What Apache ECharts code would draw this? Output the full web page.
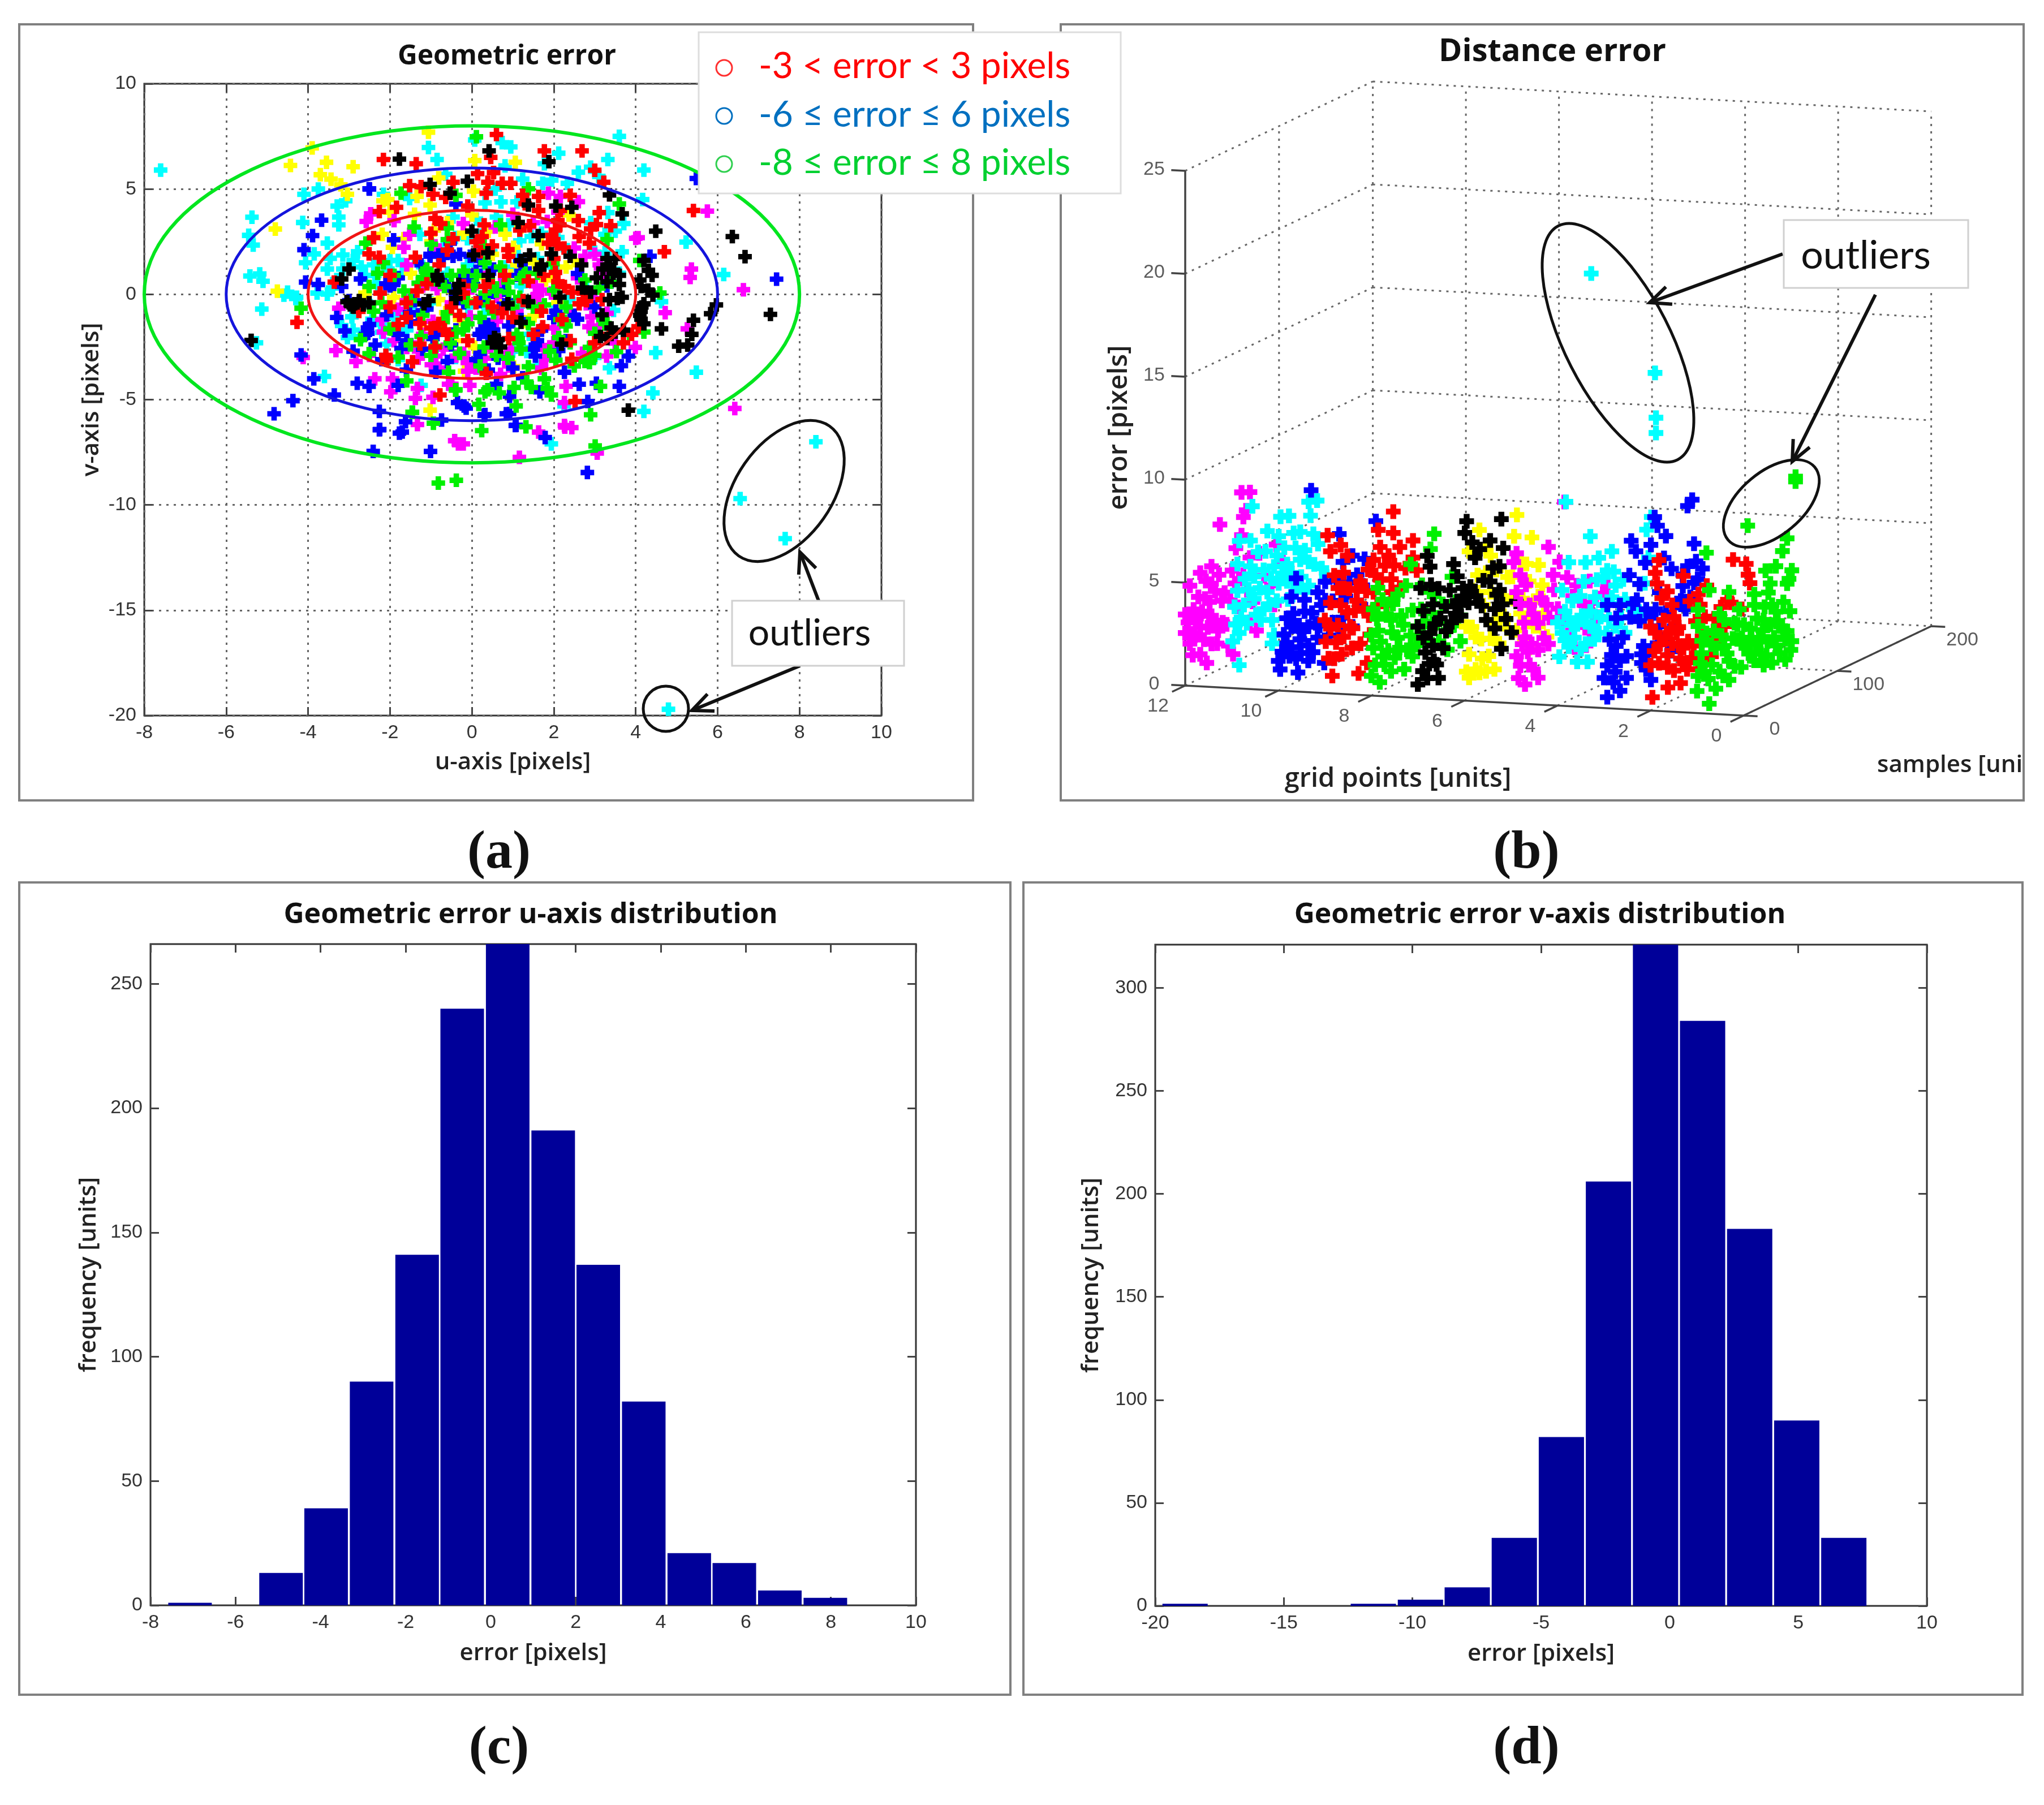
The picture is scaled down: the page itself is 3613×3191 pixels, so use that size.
<!DOCTYPE html>
<html><head><meta charset="utf-8">
<style>html,body{margin:0;padding:0;background:#fff}#c{width:3613px;height:3191px}</style>
<script src="https://cdn.jsdelivr.net/npm/echarts@6/dist/echarts.min.js"></script>
</head><body><div id="c"></div>
<script>
// ---------- panel (a): [u,v, u,v, ...]
const aCyan=[4.8,-19.7,8.4,-7,6.55,-9.7,7.65,-11.6,-7.6,5.9,.07,7.33,.74,7.2,.95,7,-1.06,6.97,-.85,6.4,2.12,6.7,1.77,6.2,3.6,7.5,3.32,6.4,2.9,6.04,2.6,5.8,3.1,5.6,4.2,5.9,.81,6.1,1.24,5.47,-.64,5.7,-4.1,4.75,-3.75,5,-2.16,4.75,-1.52,4.55,.57,5,1.73,5.27,2.33,5.27,1.95,5.42,4.17,4.5,-3.29,4.19,-3.08,4.44,-3.25,3.67,-3.25,3.3,-4.13,3.41,-3.53,2.43,-3.85,1.92,-4.06,1.5,-3.46,1.71,-3.15,1.87,-2.79,2.02,-3.53,1.2,-3.78,.06,-3.53,.01,-4.28,-.14,-4.59,-.04,-3.15,1.2,-2.37,.89,-2.05,1.2,-1.8,1.61,-2.3,.47,.32,4.34,.71,4.39,1.1,4.39,3.32,3.88,3.71,3.36,3.25,2.85,3.67,2.02,3.25,1.97,-.46,3.67,.11,3.57,.6,3.67,-1.27,2.85,-.11,2.64,1.17,2.54,1.45,2.74,2.33,2.12,.46,2.02,1.13,1.81,-.11,1.4,1.13,1.2,-.04,.78,2.37,-.25,3.46,-.76,-1.52,-.61,1.13,-.56,-2.58,-.35,-2.93,-1.07,-2.44,-1.18,-2.23,-1.43,-3.18,-1.48,-3.04,-2.05,-1.59,-1.69,-2.08,-2.36,1.34,-2.72,.21,-3.49,-1.24,-4.32,-3.6,-3.9,4.49,-2.77,5.48,-3.7,4.42,-4.68,4.2,-5.56,1.94,-7.1,4.63,-.35,6.15,.94,5.23,2.48,3.36,-3.49,2.25,-5.3,-5.37,3.66,-5.45,2.8,-5.34,2.34,-5.42,.87,-5.18,.97,-5.1,.62,-5.13,-.7,-5.26,-2.3,-4.5,.1,-4.3,-.2,-2.6,.9,-2.7,1.3,-3.4,.3,-3.3,.7,-2.9,1.6,-2.4,1.4,-2,1.6,-1.7,1,-1.3,1.5,-1,.6,-.6,1,-.2,.5,.4,1.2,.8,1.3,1.2,.4,1.6,1.7,2,1.3,2.1,2.7,1.7,2.9,.9,3.3,.3,3,-.4,2.7,-.7,2.2,-2.2,-1.8,-2.7,-2,-2.9,-1.7,-1.9,-1.1,-1.6,-.9,-1,-.4,-.1,-.6,.3,-.9,1.4,-1.9,2.1,-.6,2.8,.3,3,2,2.9,3.4,3.5,3,3.6,1,1.6,-3.4,1,-2.7,-.4,-3,-1.8,-3.1,3,-3];
const aYellow=[-4.43,6.12,-3.55,6.27,-2.9,6.06,-3.7,5.68,-3.44,5.47,-3.04,4.75,-2.17,4.44,-2.05,4.5,-1.34,4.65,-.81,5.53,.04,4.9,.07,6.35,1.06,6.27,-1.06,7.7,-1.02,4.24,-2.19,2.85,-1.94,2.23,-1.66,2.64,-.92,3.05,0,3.77,.81,2.85,1.02,2.23,1.52,1.5,2.3,1.3,1.8,.68,.95,.89,-.46,.16,-.81,-.25,-1.91,-.14,-2.61,.06,-.64,-.87,1.52,-1.02,-.39,-2.2,.07,-2.5,1.02,-3.44,-.18,-3.65,-1.02,-5.5,2.37,3.77,-3.9,6.95,-4.8,3.1,-4.75,.15,-3.2,5.2,-.6,3.4,-.2,2.9,.4,3,1.2,3.2,1.7,2.4,.5,1.9,-1,2.5,-1.4,3.8,-2,3.9,-1.5,1,-.1,-.3,.3,.8,1.1,1.4,2,.9,2.5,1.6,.7,-.3,-1.2,-1.3,-.3,-1.2,.5,-1.6,1.3,-1.3,2.1,-.4];
const aMagenta=[5.75,3.95,5.36,1.2,5.33,.8,6.63,.22,6.42,-5.42,4,2.66,4.72,-.87,-4.12,-3,-.33,-7.1,1.16,-7.74,3.06,-7.54,2.27,-6.3,1.63,-6.54,4.06,2.69,2.76,1.81,3.14,1.25,3.29,.94,5.26,-1.64,2.86,-1.54,2.93,-1.07,3.99,-2.52,3.29,-2.93,3.5,-2.31,1.77,-2.62,1.8,-3.08,.95,-2.62,-.11,-3.24,.32,-3.03,-.88,-2.93,-.99,-3.34,-1.31,-3.03,-1.59,-2.52,-2.83,-3.19,-3.32,-2.67,-2.37,-4.01,-1.98,-4.63,-1.33,-4.47,-1.38,-4.94,-.95,-4.89,-1.94,-4.01,-.49,-4.27,-.05,-4.32,2.3,-4.37,2.26,-5.14,-1.33,-6.18,-.42,-6.95,-.21,-7.1,2.26,-6.23,2.44,-6.33,-2.47,3.82,-1.66,2.23,-1.52,2.85,-.21,3.36,.57,3.2,1.84,3.46,1.87,4.8,2.16,4.65,-2.58,3.46,-1.59,1.4,-3.25,-.66,-1.8,-.71,-.85,.27,.39,.99,1.59,-.04,1.63,-.45,-.95,-1.28,-.04,-1.07,.6,-1.28,2.79,-.45,2.58,.78,-.39,-2.93,.46,-2.52,-2.16,-1.79,1.94,.06,3.11,1.4,-.1,-3.65,-.57,-4.27,1.55,.4,1.7,.2,1.5,-.2,.8,-3,.9,-3.4,-.2,-2.8,.1,-3.5,.3,-2.6,-.7,-2.6,-.8,-3.5,-1.4,-2.5,-1.2,-1.9,-1.9,-2.2,-2.5,-2.9,-2.2,-1.2,-1.6,-.3,-1.2,.4,-.5,-.4,0,.3,.6,-.1,.7,.5,1.1,-.8,2,-1.6,2.4,-.8,3,-.2,3.1,-1.5,3.3,-.9,3.2,.5,3,1.9,2.5,2.2,1.5,3.4,2.1,3.9,2.6,4.4,1,3.8,.2,2.2,-.9,2.3,-1.9,3.5,.7,-3.8,1.7,-3.5,2,-2.3,2.7,-2.8];
const aBlue=[7.44,.72,5.48,5.5,-2.5,5,2.82,-8.46,-2.41,-7.46,-1.01,-7.46,-2.25,-6.42,-1.62,-6.05,-1.7,-6.54,-4.37,-5.05,-4.83,-5.67,1.79,-6.8,1.08,-6.22,.84,-5.67,.3,-5.75,-.19,-5.3,-3.67,3.52,-3.89,2.79,-4.1,2.12,-3.75,.47,-4.06,.58,-2.72,.73,-3.18,.37,-2.51,5.01,-1.91,2.59,-4.17,-2.88,-3.86,-4.01,-3.36,-4.78,-2.8,-4.22,-2.51,-4.37,-1.8,-4.32,-2.26,-5.56,-2.26,-6.43,-1.77,-6.59,-.74,-5.97,-.35,-5.14,-.14,-5.4,.32,-5.71,.92,-5.66,.92,-4.84,1.06,-6.23,-1.02,1.81,-.81,1.87,-.53,2.43,-.46,1.81,-.04,1.81,-1.91,.47,-1.8,.78,-2.08,-.97,-2.54,-1.85,-2.5,-1.43,-3.1,-1.74,-2.36,-2.41,-1.59,-2.2,-1.73,-2.57,-.88,-1.9,-1.31,-.97,-.67,.58,-.39,-.14,.18,-.35,.04,.47,.39,-1.43,.25,-1.69,.53,-1.69,.39,-2,.49,-2.31,1.55,-2.41,1.55,-2.93,2.08,-.97,2.58,-1.18,2.12,-2.67,2.26,-3.7,2.58,.99,3.82,-2.93,3.65,-3.39,2.62,-4.27,3.04,-4.22,3.6,-4.37,2.83,-5.09,4.35,1.81,-.6,-3.19,-.88,-3.7,.6,-4.27,1.24,-3.96,1.66,-4.63,.53,1.2,-.11,.68,1.17,1.61,-1.24,1.4,.64,-3.03,.67,-.66,-1.52,-.87,-.39,-1.69,-.39,4.29,.32,-1.5,.18,-1.9,.46,-1.8,.6,-2.2,-.88,-1.7,-.95,-2.1,-1.02,1.9,-.7,1.75,-.3,1.9,.2,1.6,-2,.4,-2.1,.5,-2.55,-1.6,-2.6,-1.9,2.05,-.8,2,-1.1,2.5,-1,1.5,-2.6,1.6,-2.2,-.2,.9,.1,1.1,-.5,.2,-.2,-.4,.4,-.1,.8,.2,.9,-.3,1.1,.9,1.3,1.2,-1.4,-.3,-1.1,-.7,-1.5,-1.3,-1.8,-1.9,-1.2,-2.6,-.5,-2.4,.1,-3.1,.2,-2.8,.9,-1.5,1.2,-1.2,1.7,-1.7,2.3,-2.2,3,-.6,3.3,.4,-3,-.3,-3.3,-1.1,-2.2,-3.1,-1.6,-3.6,-2.9,-2.7,.4,-3.6,1,-3.5];
const aGreen=[-.82,-8.96,-.38,-8.83,3.01,-7.2,2.9,-5.72,.24,-6.47,-.94,-6.12,-1.46,-5.6,.17,-5.22,-.4,-4.55,.32,-4.63,1.32,-6.29,1.08,-5.3,-1.73,4.8,-.39,4.7,1.38,5.01,3.6,4.29,-2.59,2.43,-1.41,3.2,-.6,3.15,-.99,2.38,4.1,1.61,4.59,.06,3.39,.58,2.76,.68,1.98,1.45,1.27,.89,.88,.58,.6,.16,.32,.06,-1.13,1.09,-1.06,.89,-1.31,.53,-1.66,.16,-2.16,1.5,-2.51,.37,-4.17,-.66,-2.72,-2.15,-2,-1.64,-2.51,-2.82,-1.8,-2.98,-1.24,-2,-.88,-2.46,-.53,-2.31,-.39,-1.79,-.21,-1.69,1.13,-2.1,1.17,-.14,1.77,-.5,2.26,-1.28,2.12,-2.05,2.87,-2.52,2.76,-3.19,2.87,-3.24,3.25,-1.38,3.53,-2.72,3.85,-1.9,4.2,-1.79,3,-1.85,2.05,-3.13,.88,-3.03,1.38,-3.44,1.77,-4.01,-1.59,-4.11,-.57,-3.7,-.39,-4.53,.39,-4.53,.67,-4.68,1.03,-4.42,1.34,-4.16,1.45,-4.42,1.84,-4.47,1.94,-4.78,3.14,-4.37,-1.45,-5.6,.11,7.48,.11,.89,.32,1.5,-.11,-.35,-.67,.37,.53,-.87,1.38,-1.38,-.6,-.87,-1.1,1.2,-1,1,-1.2,.8,1.2,.75,1.3,1,1.15,-2.3,1.2,-2.6,1.1,-1.9,2.15,-1.2,2.3,-1.5,3.2,-1.2,3.35,-1.6,-.9,.7,-.5,.9,-.2,1.1,.05,.4,.5,.5,.9,.1,1,-.6,.4,-.5,.2,-1.1,-.1,-1.4,-.7,-1.3,-1.2,-1,-1.5,-.3,-1.9,.9,-2.3,1,-2.2,-.4,-2.4,-.8,-1.5,-2.4,-1,-2.9,-.3,-2.8,.3,-2.5,.6,-2.9,.2,-3.4,1.9,-2.7,2.4,-2.3,2.5,-3.4,3,-2.9,1.5,-.6,2,.2,2.3,-.6,3.1,.3,1.6,1,.7,1.3,.3,2.3,-.6,2.6,.7,3.3,3.3,2.6];
const aRed=[-2.16,6.4,-1.36,6.2,.6,7.59,1.77,6.81,2.69,6.81,.46,6.5,.14,5.73,.53,5.78,-1.52,5.16,-1.24,5.11,-.46,5.32,.39,5.32,.74,5.27,.95,5.27,.35,4.8,-.95,4.75,-.64,4.6,-1.84,4.13,-2.26,3.93,1.24,4.7,1.63,4.65,2.4,4.7,1.63,3.98,2.16,3.98,3.22,5.32,3,5.89,3.11,3.88,3.04,3.31,3.39,3.26,5.41,3.98,4.7,2.02,-.76,3.36,-2.4,2.69,-2.51,1.92,-2.26,1.76,-1.38,1.76,-.46,2.64,.25,2.74,1.17,3.05,1.41,3.26,2.04,3.05,1.87,2.43,2.08,2.38,2.62,2.74,2.87,2.43,.88,2.12,.21,2.02,2.04,1.04,2.72,.06,3.18,-.25,2.26,.37,-3.36,.58,-2.24,.06,-1.34,.16,-.21,.06,.32,.37,1.38,.63,2.62,-.45,-2.76,-.81,-4.27,-1.33,-1.8,-1.43,-1.27,-1.38,-.81,-1.38,-.67,-1.69,.74,-.87,1.73,-1.54,4.06,-1.54,3.36,-1.9,-1.27,-2.36,-2.08,-3.13,.35,-3.75,2.44,-3.08,-.78,-4.78,2.52,-5.09,-.1,4.19,1.95,2.8,2,2.6,2.15,3.3,2.1,3.5,2.25,2.2,2,1.7,1.75,.9,2.1,.6,2.45,.1,2.8,-.3,-.2,.4,.4,.6,.8,.9,.9,1.8,.5,2.3,.1,2.5,-.6,2.1,-.8,1.4,-1.1,.5,-1.6,-.4,-2,-.6,-.5,-.6,-.3,-1,.1,-.4,.5,-.6,1,-1.1,1.25,-.3,1.7,-.8,-.6,-1.9,-1,-1.6,-.9,-2.5,-.1,-2.2,.9,-2.1,1.5,-1.9,2.2,-1.2,2.4,-2.2,3,-2.3,3.7,-2.3,3.9,-1.9,-1.6,-1.1,-1.45,-3.2,-2.1,-2.9,-2,.9,-1,2.9,-.9,3.6,.3,3.3,1.3,4.3,2.6,3.5,2.9,3.1];
const aBlack=[-5.39,-2.19,-1.77,6.42,.42,6.81,1.88,6.3,-1.02,5.22,-.11,5.37,-.53,4.8,1.38,4.24,2.05,4.19,2.44,4.13,3.36,4.72,3.67,3.82,4.49,3,6.36,2.74,6.67,1.79,7.29,-.95,1.13,3.41,0,3,1.62,2.79,.04,1.87,.39,1.97,1.41,1.87,1.94,1.92,2.4,1.81,2.68,1.4,1.66,1.2,3.36,1.4,3.46,1.14,4.2,1.61,4.31,1.14,3.04,.78,4.1,.68,4.13,.37,3.6,.47,3.36,-.25,3.67,-.14,4.42,-.04,2.15,-.14,1.38,-.35,.88,-.45,-1.17,-.45,-.83,.68,-.32,.47,-.39,-.2,-2.86,-.45,-2.97,-.5,-2.51,-.4,-3.18,.73,-3,1.2,3.18,-.97,4.13,-.81,4.13,-1.18,4.2,-.45,5.97,-.5,5.83,-.92,5.41,-1.23,4.63,-1.64,5.37,-1.9,5.05,-2.46,5.27,-2.41,3.5,-1.79,1.2,-1.33,.64,-2.15,2.19,-2.36,3.82,-5.5,3.14,-2,3.3,1.7,3.5,1.7,3.45,1,3.6,.9,3.2,1.2,3.3,.6,3.55,-.2,4.1,-1,4.2,-1.4,4.15,-.6,-2.75,-.3,-2.65,-.5,-3.05,-.35,-2.9,-.6,-.85,.9,-.4,.1,-1.05,-.3,.5,-2.3,.7,-2.5,.55,-2.05,3.4,-1.6,3.7,-1.7,3.3,-2.1,4.3,.2,4.4,.9,2.7,.3,2.9,.1,.4,.9,1.2,1.6,1.7,1.4];
const aRadii=[4,6,8];
// ---------- panel (b): per grid point, [sample, error, ...]
const bGrid1=[13,.17,0,1.07,34,.87,20,.75,10,7.57,13,5.69,34,5.14,54,7.93,105,8.97,105,9.2,96,6.4,91,5.89,84,5.31,73,5.33,101,4.74,98,4.39,78,4.6,61,4.45,1,5,1,4.2,10,3.67,24,4.3,20,2.73,3.5,2.35,8,1.83,1,1.78,29,2.63,34,1.8,43,2.65,52,2.04,61,1.22,47,1.21,71,.79,80,.71,94,.56,66,2.16,75,1.85,84,1.46,94,1.55,101,1.3,89,2.28,71,2.98,80,3.52,61,3.93,45,4.06,29,3.89,43,3.37,57,2.86,24,1.49,15,3,18,3.6,26,3.2,32,2.2,38,2.8,40,1.4,48,2.6,50,3.2,55,1.7,58,2.4,63,2,68,1.4,70,2.5,74,1.2,78,2.6,82,1.9,86,2.6,88,1,92,2,96,1.9,99,2.8,100,.9,64,3.2,72,3.6,84,3.1,76,4.2,12,1.4,16,2,28,1.2,40,3.5,92,3.4,96,4.2,5,3.4,5,2.8];
const bGrid2=[2,.6,18.5,.72,32,.64,0,2.2,9,2.1,18.5,1.7,39,1.16,51,.9,32,1.83,46,2.16,5,3.67,0,4.08,14,4.09,23,4.63,25,4,28,3.16,35,2.29,23,2.75,51,4.55,53,3.99,9,7.11,5,6.58,7,6.02,35,5.78,60,4.77,88,5.42,102,4.91,106,3.89,104,4.34,86,3.37,97,2.83,79,2.39,74,1.87,65,1.23,58,1.17,10,3,16,3.2,18,2.3,22,3.5,30,3.4,30,2.5,36,1.5,40,2.5,44,1.6,48,3.3,55,2.4,62,2.2,68,3,72,2.5,75,3.4,82,3.6,12,5.2,18,5.4,42,4.4,4,2.8,58,3.3,25,1.4];
const bGrid3=[3.5,.45,17,.47,10,1.03,0,1.46,24,.94,3.5,2,17,1.93,13,2.74,50,.28,45,.9,40,1.32,52,1.8,27,5.87,3.5,4.93,17,4.63,31,4.4,45,3.82,13,4.09,29,7.5,34,6.87,54,8.1,57,7.62,50,6.84,66,6.92,59,4.35,89,7.88,94,8.08,96,5.9,98,5,89,4.96,105,4.5,84,4.66,96,4,82,3.44,87,2.92,68,1.77,75,2.34,50,3.3,59,2.69,40,1.74,6,3.2,8,2.4,12,1.5,20,3,24,2,28,3.8,35,4.5,38,3.4,38,5.2,42,2.1,46,1.6,55,3.6,62,2,66,3.2,72,1.2,78,3.4,84,4.1,92,3.4,100,4.1,72,5.2,64,5.9,44,6.1];
const bGrid4=[36,20.2,104,13.9,105,11.7,105,10.96,9,9.7,2,2.33,21,1.67,32,1.43,5,3.42,30,2.35,39,2.37,0,4.04,12,3.99,16,4.74,5,5.5,12,6.7,28,5.42,35,7.46,44,6.22,58,6.23,53,5.41,49,5.18,62,4.48,49,3.82,35,3.81,62,2.5,72,1.97,35,3.08,21,3.49,44,2.57,76,3.24,90,2.31,93,3.92,97,5.08,100,6.99,95,6.48,8,3,12,2.6,18,2.9,25,2.2,26,3.8,30,3.4,38,3,40,4.4,46,3.3,52,2.4,55,3,58,4,66,3.5,68,2.8,72,3.6,70,4.6,82,3,86,2.6,88,4,24,4.8,15,3.6,8,4.4,42,5.2,30,6.3,60,5.2];
const bGrid5=[15,.58,24,1.11,6,2.14,29,1.95,15,2.87,6,5.26,3,6.78,6,7.14,40,6.71,20,4.33,29,3.26,52,5.73,45,5.25,38,3.95,68,1.22,80,1.06,84,4.1,103,3.48,84,1.6,61,1.98,57,8.53,66,3.76,78,3.08,98,3.18,41,3.25,20,1.42,8,1.04,29,.6,10,1.6,12,2.6,18,2.1,22,2.4,10,4.6,14,3.6,24,3.8,32,4.4,35,2.4,40,2,46,4.5,50,3.5,56,2.9,60,4.8,70,4.2,74,2.3,86,3,92,2.2,10,6,16,5.4];
const bGrid6=[2,1.36,23,.92,12,1.25,32,.82,5,2.14,19,1.63,37,1.97,2,3.55,12,2.82,23,6.96,16,7.94,5,7.14,28,6.43,23,5.71,14,5.79,14,4.96,28,4.66,42,4.15,56,7.8,53,6.83,72,6.36,79,4.87,51,4.9,69,4.29,83,3.8,79,3.35,69,2.73,88,1.2,79,1.9,60,2.93,37,3.22,69,1.06,5,1,8,3.4,16,1,18,2.6,26,1.6,28,2.4,33,3,42,3.2,46,2.5,46,5,52,3.8,56,2.2,62,3.6,64,1.5,74,3.2,74,2,85,2.4,20,4.2,8,5.2,34,5.6,60,5.5,66,5.2];
const bGrid7=[0,.66,10,.75,22,.5,17,1.44,8,2.04,27,1.84,13,2.87,24,3.36,40,3.23,36,2.9,50,3.84,54,3.45,45,3.54,3,5.28,22,4.85,10,6.69,13,6.1,52,7.46,50,6.93,89,6.76,38,5.68,61,5.49,77,5.98,91,5.31,66,5.8,87,4.51,77,3.99,87,3.36,105,2.4,82,2.54,82,1.6,100,1.01,89,.46,73,2.21,0,3.47,5,1.2,12,1.4,16,2.2,20,1.2,6,2.8,18,3.2,30,2.6,30,3.8,34,4.5,42,3.8,46,3,48,4.3,56,4.2,62,3.6,68,3,70,4.2,84,3.2,90,2.6,94,1.8,80,4.6,16,4.2,6,4.1,14,5.2,42,5,58,6.3];
const bGrid8=[9,.45,0,.96,21,.72,35,.52,12,1.64,2,2.27,30,1.67,44,.95,2,4.15,7,5.08,0,2.94,21,3.22,23,3.95,37,4.54,42,5.47,67,6.4,63,5.75,63,3.67,67,3.38,53,3.05,58,2.31,72,1.07,86,3.9,95,1.83,95,.58,81,.47,49,2.3,32,3.19,7,3,53,1.6,4,1.4,6,3.6,10,2.4,14,1.2,16,3.6,18,1.8,22,2.6,25,1.3,28,2.2,34,2.7,38,1.4,42,2,44,3.2,48,1.4,55,2.2,60,1.4,65,2.6,70,2,76,2.8,82,1.4,88,1.5,90,2.6,12,4.4,28,4.3,54,4.2];
const bGrid9=[8,.66,36,.17,45,.49,10,1.45,1,2.48,29,1.56,38,1.57,0,3.54,27,2.64,6,4.25,17,3.9,3,7.6,6,6.75,17,6.82,24,6.15,20,5.41,20,4.67,34,4.27,34,3.75,47,2.74,52,5.34,54,4.56,57,6.69,73,7.23,73,6.19,59,5.81,80,5.36,94,5.37,94,4.54,71,3.99,80,3.39,98,3.83,71,3.36,66,2.85,52,3.77,4,1.6,6,3,12,2.2,14,3,18,1.5,20,2.3,24,3.4,30,2.5,32,3.3,38,4.6,42,3.2,44,4,46,5,48,1.8,56,3,60,4.2,64,4.8,68,5.2,74,4.6,86,4.2,10,5.5,14,4.8,26,4.5];
const bGrid10=[2,.98,21,.42,0,1.44,49,.28,19,1.14,32,.75,9,2.07,23,1.99,37,1.06,9,3.32,19,2.71,28,3.23,46,3.16,19,5.04,35,8.97,14,4.26,42,3.86,58,2.06,65,1.6,65,6.19,69,4.75,79,4.84,90,3.15,88,2.25,104,5.97,79,1.4,42,1.66,69,2.04,32,2.41,4,1.8,6,2.6,12,1.4,14,2.8,16,3.4,22,2.7,24,1.3,27,2.3,28,3.8,32,1.5,36,3,40,2.4,44,2.2,50,3.3,50,4.2,54,1.5,58,3.1,62,4,72,3,76,3.6,84,3.8,92,4.4,14,1.8];
const bGrid11=[8,.94,1,2.24,8,2.5,43,1.23,45,1.6,22,8.35,20,6.73,8,6.97,6,5.89,20,5.48,13,3.75,3,3.88,24,3.82,34,3.09,31,2.64,36,5.86,45,4.93,52,7.19,61,7.04,50,6.29,68,5.33,73,6,82,7.27,91,7.13,84,6.55,87,5.6,73,4.65,59,4.74,82,4.35,96,3.74,101,3.22,82,3.2,78,2.98,43,2.37,59,3.9,50,4,38,3.84,4,3,6,4.6,10,3.2,14,5,16,2.8,18,4.4,24,4.9,26,3,28,6,30,4.2,34,5,40,3.2,42,4.4,48,5.4,48,3.2,54,4.4,56,5.6,60,3,64,4.2,66,6.1,70,3.4,74,3.8,78,5,88,4.1,92,5,38,6.8];
const bGrid12=[23,.6,16,1.17,5,1.93,0,2.55,28,1.42,46,.94,51,.42,16,2.52,35,1.91,9,3.5,28,2.78,44,2.02,0,3.45,21,3.77,39,3.27,5,4.74,16,5.13,28,5.18,28,4.34,53,3.81,60,8.08,69,7.9,37,7.02,62,6.84,65,7.1,97,4.74,69,4.72,79,4.71,92,2.87,95,1.86,104,3.75,76,1.02,69,1.59,62,4.03,3,3,6,2.4,8,1.3,10,2.2,12,3,14,4,18,3.2,20,1.8,22,4.6,24,2.3,26,3.5,30,2.5,32,3.9,34,1.3,36,4.6,40,2.2,42,3.6,48,3.1,50,4.5,56,2.6,66,3.2,72,2.5,84,3.5,60,6,54,5.5];
const bTicksGrid=[12,10,8,6,4,2,0], bTicksSamples=[0,100,200], bTicksError=[0,5,10,15,20,25];
// ---------- panels (c),(d)
const cCenters=[-7.07,-6,-4.93,-3.87,-2.8,-1.73,-.67,.4,1.47,2.53,3.6,4.67,5.73,6.8,7.87];
const cCounts=[1,0,13,39,90,141,240,267,191,137,82,21,17,6,3];
const dCenters=[-18.84,-17.01,-15.18,-13.35,-11.52,-9.69,-7.87,-6.04,-4.21,-2.38,-.55,1.28,3.11,4.94,6.77];
const dCounts=[1,0,0,0,1,3,9,33,82,206,322,284,183,90,33];

const aXTicks=[-8,-6,-4,-2,0,2,4,6,8,10], aYTicks=[-20,-15,-10,-5,0,5,10];
const cYTicks=[0,50,100,150,200,250], dXTicks=[-20,-15,-10,-5,0,5,10], dYTicks=[0,50,100,150,200,250,300];

const COL={b:'#0000ff',g:'#00f000',r:'#ff0000',c:'#00ffff',m:'#ff00ff',y:'#ffff00',k:'#000000'};
const plus='path://M30 0H70V30H100V70H70V100H30V70H0V30H30Z';
const pairs=a=>{const o=[];for(let i=0;i<a.length;i+=2)o.push([a[i],a[i+1]]);return o;};
const NAMEFONT={fontFamily:'Open Sans',fontWeight:600,fontSize:42,color:'#222'};
const TICKFONT={fontFamily:'Liberation Sans',fontSize:34,color:'#333'};
const dotted={show:true,lineStyle:{type:[4,9],color:'#666',width:3}};

const grid=[
 {left:255,top:148,width:1303,height:1117,show:true,borderColor:'#333',borderWidth:3,backgroundColor:'transparent'},
 {left:2012.75,top:100.2,width:1480.5,height:1237.6,show:false},
 {left:266,top:1669,width:1353,height:1169,show:true,borderColor:'#333',borderWidth:3,backgroundColor:'transparent'},
 {left:2042,top:1670,width:1364,height:1169,show:true,borderColor:'#333',borderWidth:3,backgroundColor:'transparent'}
];
const xAxis=[],yAxis=[];
function axisPair(list,gi,main,second,min,max,ticks,name,gap,split){
 const base={type:'value',gridIndex:gi,min,max,axisLine:{show:false,onZero:false}};
 const idx=list.length;
 list.push({...base,position:main,name,nameLocation:'middle',nameGap:gap,nameTextStyle:NAMEFONT,
   axisTick:{show:true,inside:true,length:15,customValues:ticks,lineStyle:{color:'#444',width:3}},
   axisLabel:{show:true,customValues:ticks,margin:14,...TICKFONT},
   splitLine:split?dotted:{show:false}});
 list.push({...base,position:second,
   axisTick:{show:true,inside:true,length:15,customValues:ticks,lineStyle:{color:'#444',width:3}},
   axisLabel:{show:false},splitLine:{show:false}});
 return idx;
}
const ax=axisPair(xAxis,0,'bottom','top',-8,10,aXTicks,'u-axis [pixels]',62,true);
const ay=axisPair(yAxis,0,'left','right',-20,10,aYTicks,'v-axis [pixels]',72,true);
// panel (b) plane: orthographic view, x = g - .02016 s, y = e + .1214 g + .0217 s
const bx=xAxis.length; xAxis.push({type:'value',gridIndex:1,min:-5,max:13,inverse:true,show:false});
const by=yAxis.length; yAxis.push({type:'value',gridIndex:1,min:-2,max:32,show:false});
const project=(g,s,e)=>[g-.02016*s, e+.1214*g+.0217*s];
const cx=axisPair(xAxis,2,'bottom','top',-8,10,aXTicks,'error [pixels]',64,false);
const cy=axisPair(yAxis,2,'left','right',0,266,cYTicks,'frequency [units]',88,false);
const dx=axisPair(xAxis,3,'bottom','top',-20,10,dXTicks,'error [pixels]',64,false);
const dy=axisPair(yAxis,3,'left','right',0,321,dYTicks,'frequency [units]',92,false);

const series=[];
[['cyan',aCyan,COL.c],['yellow',aYellow,COL.y],['magenta',aMagenta,COL.m],['blue',aBlue,COL.b],['green',aGreen,COL.g],['red',aRed,COL.r],['black',aBlack,COL.k]]
.forEach(([n,d,c])=>series.push({type:'scatter',name:n,xAxisIndex:ax,yAxisIndex:ay,data:pairs(d),symbol:plus,symbolSize:24,itemStyle:{color:c,opacity:1},z:2,silent:true}));
[[aRadii[0],'#f01414',5],[aRadii[1],'#1414dc',5],[aRadii[2],'#00e61e',6]].forEach(([r,c,w])=>series.push({
 type:'custom',xAxisIndex:ax,yAxisIndex:ay,z:3,silent:true,data:[[0,0,r]],
 renderItem:(p,api)=>{const o=api.coord([0,0]),q=api.coord([r,r]);
  return {type:'ellipse',shape:{cx:o[0],cy:o[1],rx:Math.abs(q[0]-o[0]),ry:Math.abs(q[1]-o[1])},style:{fill:'transparent',stroke:c,lineWidth:w}};}
}));
const segs=(list)=>{const o=[];list.forEach(([a,b])=>{o.push(project(...a),project(...b),['-','-']);});return o;};
const wall=[];
bTicksError.forEach(e=>{wall.push([[12,0,e],[12,200,e]]);wall.push([[12,200,e],[0,200,e]]);});
bTicksGrid.forEach(g=>{wall.push([[g,200,0],[g,200,25]]);wall.push([[g,0,0],[g,200,0]]);});
wall.push([[12,100,0],[12,100,25]]);wall.push([[12,100,0],[0,100,0]]);
series.push({type:'line',xAxisIndex:bx,yAxisIndex:by,data:segs(wall),showSymbol:false,z:1,silent:true,lineStyle:{type:[4,9],color:'#666',width:3}});
const solid=[[[12,0,0],[12,0,25]],[[12,0,0],[0,0,0]],[[0,0,0],[0,200,0]]];
bTicksError.forEach(e=>solid.push([[12,0,e],[12.3,0,e]]));
bTicksGrid.forEach(g=>solid.push([[g,0,0],[g,-14,0]]));
bTicksSamples.forEach(s=>solid.push([[0,s,0],[-.3,s,0]]));
series.push({type:'line',xAxisIndex:bx,yAxisIndex:by,data:segs(solid),showSymbol:false,z:1,silent:true,lineStyle:{color:'#444',width:3.5}});
[[12,bGrid12,COL.m],[11,bGrid11,COL.c],[10,bGrid10,COL.b],[9,bGrid9,COL.r],[8,bGrid8,COL.g],[6,bGrid6,COL.y],[7,bGrid7,COL.k],[5,bGrid5,COL.m],[4,bGrid4,COL.c],[3,bGrid3,COL.b],[2,bGrid2,COL.r],[1,bGrid1,COL.g]]
.forEach(([g,d,c])=>series.push({type:'scatter',name:'grid '+g,xAxisIndex:bx,yAxisIndex:by,data:pairs(d).map(([s,e])=>project(g,s,e)),symbol:plus,symbolSize:26,itemStyle:{color:c,opacity:1},z:2,silent:true}));
const tickLabels=(vals,f,off)=>series.push({type:'scatter',xAxisIndex:bx,yAxisIndex:by,symbolSize:1,itemStyle:{color:'transparent'},silent:true,z:4,
 data:vals.map(v=>({value:project(...f(v)),name:String(v)})),
 label:{show:true,position:'inside',offset:off,formatter:'{b}',...TICKFONT}});
tickLabels(bTicksError,e=>[12,0,e],[-55,-2]);
tickLabels(bTicksGrid,g=>[g,0,0],[-48,37]);
tickLabels(bTicksSamples,s=>[0,s,0],[55,25]);
series.push({type:'bar',name:'u-axis',xAxisIndex:cx,yAxisIndex:cy,data:cCenters.map((x,i)=>[x,cCounts[i]]),barWidth:77,itemStyle:{color:'#000099'},silent:true,z:2});
series.push({type:'bar',name:'v-axis',xAxisIndex:dx,yAxisIndex:dy,data:dCenters.map((x,i)=>[x,dCounts[i]]),barWidth:80,itemStyle:{color:'#000099'},silent:true,z:2});

const T=(text,x,y,font,fill,extra)=>({type:'text',x,y,z:(extra&&extra.z)||80,rotation:(extra&&extra.rotation)||0,silent:true,
 style:{text,font,fill:fill||'#111',textAlign:(extra&&extra.align)||'center',textVerticalAlign:'middle',align:(extra&&extra.align)||'center',verticalAlign:'middle'}});
const box=(x0,y0,x1,y1,stroke,w,fill,z)=>({type:'rect',z,silent:true,shape:{x:x0,y:y0,width:x1-x0,height:y1-y0},style:{fill,stroke,lineWidth:w}});
const oval=(x,y,rx,ry,deg)=>({type:'ellipse',x,y,rotation:deg*Math.PI/180,z:90,silent:true,shape:{cx:0,cy:0,rx,ry},style:{fill:'transparent',stroke:'#111',lineWidth:5}});
function arrow(x1,y1,x2,y2){
 const a=Math.atan2(y1-y2,x1-x2),L=40,t=.42;
 return [{type:'line',z:91,silent:true,shape:{x1,y1,x2,y2},style:{stroke:'#111',lineWidth:6}},
  {type:'polyline',z:91,silent:true,shape:{points:[[x2+L*Math.cos(a+t),y2+L*Math.sin(a+t)],[x2,y2],[x2+L*Math.cos(a-t),y2+L*Math.sin(a-t)]]},style:{stroke:'#111',lineWidth:6,fill:'transparent'}}];
}
const TITLE='bold 48px "Open Sans"', TITLE2='bold 50px "Open Sans"', LEG='64px Lato', FIG='bold 96px "Liberation Serif"';
const graphic=[
 T('samples [units]',3318,1353,'600 42px "Open Sans"','#222',{align:'left',z:80}),
 box(3579,0,3613,1425,'#fff',0,'#fff',85),
 box(34,43,1720,1415,'#808080',4,'transparent',95),
 box(1875,43,3577,1415,'#808080',4,'transparent',95),
 box(34,1560,1786,2996,'#808080',4,'transparent',95),
 box(1809,1560,3575,2996,'#808080',4,'transparent',95),
 T('Geometric error',896,100,TITLE),
 T('Distance error',2744,92,'bold 56px "Open Sans"'),
 T('Geometric error u-axis distribution',938,1618,TITLE2),
 T('Geometric error v-axis distribution',2722,1618,TITLE2),
 T('error [pixels]',1979,756,'600 47px "Open Sans"','#222',{rotation:Math.PI/2}),
 T('grid points [units]',2471,1378,'600 47px "Open Sans"','#222'),
 T('(a)',882,1509,FIG),T('(b)',2698,1509,FIG),T('(c)',882,3092,FIG),T('(d)',2698,3092,FIG),
 box(1235,57,1981,342,'#dddddd',3,'#ffffff',100),
 {type:'circle',z:101,silent:true,shape:{cx:1280,cy:120,r:14},style:{fill:'transparent',stroke:'#ff3030',lineWidth:3}},
 {type:'circle',z:101,silent:true,shape:{cx:1280,cy:205,r:14},style:{fill:'transparent',stroke:'#0070c0',lineWidth:3}},
 {type:'circle',z:101,silent:true,shape:{cx:1280,cy:290,r:14},style:{fill:'transparent',stroke:'#30d050',lineWidth:3}},
 T('-3 < error < 3 pixels',1341,117,LEG,'#ff0000',{align:'left',z:101}),
 T('-6 ≤ error ≤ 6 pixels',1341,203,LEG,'#0070c0',{align:'left',z:101}),
 T('-8 ≤ error ≤ 8 pixels',1341,288,LEG,'#00d030',{align:'left',z:101}),
 oval(1386,868,140,85,55),oval(1177,1253,40,40,0),
 ...arrow(1447,1062,1414,976),...arrow(1414,1177,1223,1256),
 box(1294,1062,1598,1177,'#d0d0d0',3,'#ffffff',92),
 T('outliers',1431,1120,'66px Lato','#111',{z:93}),
 oval(2860,606,232,93,-63),oval(3131,890,100,56,40),
 ...arrow(3151,449,2916,535),...arrow(3315,521,3168,816),
 box(3153,389,3479,509,'#d0d0d0',3,'#ffffff',92),
 T('outliers',3298,452,'70px Lato','#111',{z:93})
];
const chart=echarts.init(document.getElementById('c'),null,{renderer:'canvas',width:3613,height:3191});
chart.setOption({animation:false,backgroundColor:'#ffffff',grid,xAxis,yAxis,series,graphic,tooltip:{show:false}});
</script></body></html>
